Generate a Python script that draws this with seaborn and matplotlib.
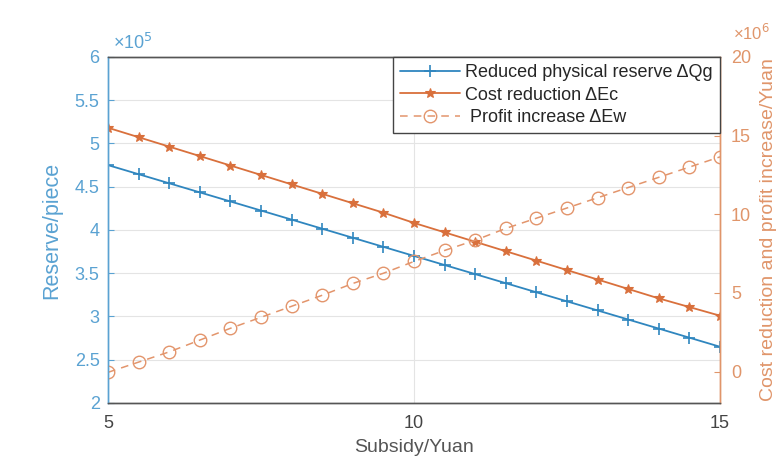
import matplotlib
matplotlib.use("Agg")
import matplotlib.pyplot as plt
import seaborn as sns
import pandas as pd

subsidy = [5, 5.5, 6, 6.5, 7, 7.5, 8, 8.5, 9, 9.5, 10, 10.5, 11, 11.5, 12, 12.5, 13, 13.5, 14, 14.5, 15]
reserve_qg = [4.75, 4.645, 4.54, 4.435, 4.33, 4.225, 4.12, 4.015, 3.91, 3.805, 3.70,
              3.595, 3.49, 3.385, 3.28, 3.175, 3.07, 2.965, 2.86, 2.755, 2.65]
cost_ec = [15.5, 14.9, 14.3, 13.7, 13.1, 12.5, 11.9, 11.3, 10.7, 10.1, 9.45,
           8.85, 8.25, 7.65, 7.05, 6.45, 5.85, 5.25, 4.65, 4.1, 3.55]
profit_ew = [-0.05, 0.6, 1.25, 2.0, 2.75, 3.45, 4.15, 4.85, 5.6, 6.25, 7.0,
             7.7, 8.35, 9.1, 9.75, 10.4, 11.05, 11.7, 12.35, 13.0, 13.65]
left_ticks = [2, 2.5, 3, 3.5, 4, 4.5, 5, 5.5, 6]
left_ticklabels = ["2", "2.5", "3", "3.5", "4", "4.5", "5", "5.5", "6"]
right_ticks = [0, 5, 10, 15, 20]
x_ticks = [5, 10, 15]
labels = ["Reduced physical reserve \u0394Qg", "Cost reduction \u0394Ec", " Profit increase \u0394Ew"]

sns.set_style("white")
plt.rcParams['font.family'] = ['Liberation Sans', 'DejaVu Sans']

blue = "#2f86bf"
blue_txt = "#5aa2d2"
orange = "#d9703c"
orange_light = "#e3956c"
orange_txt = "#e0956a"

df = pd.DataFrame({"x": subsidy, "qg": reserve_qg, "ec": cost_ec, "ew": profit_ew})

fig = plt.figure(figsize=(7.81, 4.63), dpi=100)
ax = fig.add_axes([0.1383, 0.1296, 0.7836, 0.7473])
ax2 = ax.twinx()

sns.lineplot(data=df, x="x", y="qg", ax=ax, color=blue, marker="+", markersize=9,
             markeredgecolor=blue, markeredgewidth=1.2, linewidth=1.3,
             label=labels[0], legend=False)
sns.lineplot(data=df, x="x", y="ec", ax=ax2, color=orange, marker="*", markersize=7,
             markeredgecolor=orange, markeredgewidth=0.8, linewidth=1.3,
             label=labels[1], legend=False)
sns.lineplot(data=df, x="x", y="ew", ax=ax2, color=orange_light, marker="o", markersize=9,
             markerfacecolor="none", markeredgecolor=orange_light, markeredgewidth=1.0,
             linewidth=1.1, linestyle=(0, (5, 4)), label=labels[2], legend=False)

ax.set_xlim(5, 15)
ax.set_ylim(2, 6)
ax2.set_ylim(-2, 20)
ax.set_xticks(x_ticks)
ax.set_yticks(left_ticks)
ax.set_yticklabels(left_ticklabels)
ax2.set_yticks(right_ticks)

ax.grid(True, color="#e4e4e4", linewidth=0.8)
ax2.grid(False)
ax.set_axisbelow(True)

ax.tick_params(axis="x", colors="#444444", labelsize=13, direction="in", length=4, pad=9)
ax.tick_params(axis="y", colors=blue_txt, labelsize=13, direction="in", length=4, pad=6)
ax2.tick_params(axis="y", colors=orange_txt, labelsize=13, direction="in", length=4, pad=8)

for a in (ax, ax2):
    a.spines["top"].set_color("#555555")
    a.spines["bottom"].set_color("#555555")
    a.spines["left"].set_color(blue_txt)
    a.spines["right"].set_color(orange_txt)
    for s in a.spines.values():
        s.set_linewidth(1.0)

ax.set_xlabel("Subsidy/Yuan", fontsize=14, color="#555555", labelpad=5)
ax.set_ylabel("Reserve/piece", fontsize=15.5, color=blue_txt, labelpad=9)
ax2.set_ylabel("Cost reduction and profit increase/Yuan", fontsize=14,
               color=orange_txt, labelpad=6)

ax.text(0.008, 1.012, "\u00d710$^5$", transform=ax.transAxes, fontsize=13,
        color=blue_txt, ha="left", va="bottom")
ax2.text(1.022, 1.04, "\u00d710$^6$", transform=ax.transAxes, fontsize=12,
         color=orange_txt, ha="left", va="bottom")

h1, l1 = ax.get_legend_handles_labels()
h2, l2 = ax2.get_legend_handles_labels()
leg = ax2.legend(h1 + h2, l1 + l2, loc="upper right", bbox_to_anchor=(1.0, 1.0),
                 borderaxespad=0, fancybox=False, framealpha=1, edgecolor="#444444",
                 fontsize=13, handlelength=3.3, labelspacing=0.3, borderpad=0.4,
                 handletextpad=0.3)
leg.get_frame().set_linewidth(1.0)

fig.savefig("out.png", dpi=100)
